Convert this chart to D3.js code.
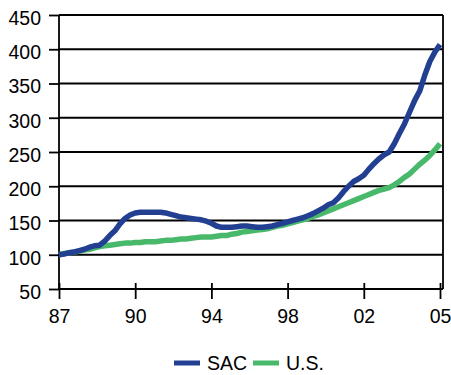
<!DOCTYPE html>
<html>
<head>
<meta charset="utf-8">
<script src="https://cdn.jsdelivr.net/npm/d3@7"></script>
<style>
  html, body { margin: 0; padding: 0; background: #fff; }
  svg { display: block; }
  text { font-family: "Liberation Sans", Arial, sans-serif; fill: #000; }
</style>
</head>
<body>
<svg id="chart" width="451" height="375"></svg>
<script>
// Quarterly home price index, 1987 Q1 = 100 (1987 Q1 .. 2005 Q4)
const quarters = d3.range(76);
const sac = [100,101,103,104,106,108,111,113,114,120,128,135,145,153,158,161,
             162,162,162,162,162,161,159,157,155,154,153,152,151,149,146,142,
             140,140,140,141,142,142,141,140,140,141,142,144,146,148,150,152,
             154,157,160,164,168,173,176,183,192,200,207,211,216,225,233,240,
             246,250,262,277,291,308,325,339,362,382,396,407];
const us  = [100,102,103,104,105,107,108,110,112,113,114,115,116,117,117,118,
             118,119,119,119,120,121,121,122,123,123,124,125,126,126,126,127,
             128,128,130,131,133,134,135,136,137,138,140,142,143,145,147,149,
             151,153,156,158,161,164,167,170,173,176,179,182,185,188,191,194,
             196,198,202,207,213,218,225,232,238,245,253,262];
const xTickIndex = [0, 15, 30, 45, 60, 75];
const xTickLabels = ["87", "90", "94", "98", "02", "05"];
const yTicks = [50, 100, 150, 200, 250, 300, 350, 400, 450];
const seriesNames = ["SAC", "U.S."];
const seriesColors = ["#233f92", "#48b96a"];

const svg = d3.select("#chart");
const plot = { left: 59, right: 443, top: 15, bottom: 289 };

const x = d3.scaleLinear().domain([0, 75]).range([plot.left, 440]);
const y = d3.scaleLinear().domain([50, 450]).range([plot.bottom, plot.top]);

// horizontal gridlines
svg.append("g")
  .selectAll("line")
  .data(yTicks.filter(v => v > 50))
  .join("line")
  .attr("x1", plot.left).attr("x2", plot.right)
  .attr("y1", d => y(d)).attr("y2", d => y(d))
  .attr("stroke", "#000").attr("stroke-width", 1.8);

// right border
svg.append("line")
  .attr("x1", plot.right).attr("x2", plot.right)
  .attr("y1", plot.top).attr("y2", plot.bottom)
  .attr("stroke", "#000").attr("stroke-width", 1.8);

// y axis
const yAxis = d3.axisLeft(y).tickValues(yTicks).tickSize(10).tickPadding(8);
const gy = svg.append("g")
  .attr("transform", `translate(${plot.left},0)`)
  .call(yAxis);
gy.select(".domain").attr("stroke", "#000").attr("stroke-width", 1.8)
  .attr("d", `M0,${plot.top}V${plot.bottom}`);
gy.selectAll(".tick line").attr("stroke", "#000").attr("stroke-width", 1.8);
gy.selectAll(".tick text")
  .style("font-family", '"Liberation Sans", Arial, sans-serif')
  .style("font-size", "19.5px").attr("fill", "#000").attr("dy", "0.48em");

// x axis with crossing tick marks
const xAxis = d3.axisBottom(x).tickValues(xTickIndex)
  .tickFormat((d, i) => xTickLabels[i]).tickSize(10).tickPadding(10);
const gx = svg.append("g")
  .attr("transform", `translate(0,${plot.bottom})`)
  .call(xAxis);
gx.select(".domain").attr("stroke", "#000").attr("stroke-width", 1.8)
  .attr("d", `M${plot.left},0H${plot.right}`);
gx.selectAll(".tick line").attr("stroke", "#000").attr("stroke-width", 1.8)
  .attr("y1", -6).attr("y2", 10);
gx.selectAll(".tick text")
  .style("font-family", '"Liberation Sans", Arial, sans-serif')
  .style("font-size", "19.5px").attr("fill", "#000");

// series lines
const line = d3.line()
  .x((d, i) => x(quarters[i]))
  .y(d => y(d));

[us, sac].forEach((vals, k) => {
  const idx = k === 0 ? 1 : 0;
  svg.append("path")
    .datum(vals)
    .attr("d", line)
    .attr("fill", "none")
    .attr("stroke", seriesColors[idx])
    .attr("stroke-width", 5.5)
    .attr("stroke-linejoin", "round");
});

// legend
const legend = svg.append("g");
const legendItems = [
  { name: seriesNames[0], color: seriesColors[0], x: 174 },
  { name: seriesNames[1], color: seriesColors[1], x: 253 }
];
legendItems.forEach(it => {
  legend.append("line")
    .attr("x1", it.x).attr("x2", it.x + 26)
    .attr("y1", 363).attr("y2", 363)
    .attr("stroke", it.color).attr("stroke-width", 5);
  legend.append("text")
    .attr("x", it.x + 33).attr("y", 370)
    .style("font-size", "19.5px")
    .text(it.name);
});
</script>
</body>
</html>
